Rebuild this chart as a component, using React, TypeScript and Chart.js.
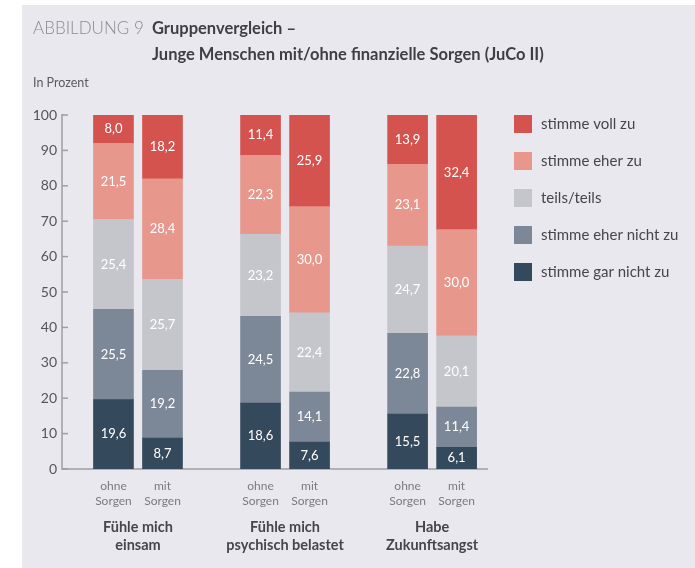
import { useEffect, useRef } from "react";
import { Chart, registerables } from "chart.js";

Chart.register(...registerables);

// ---- Data ----
const groupLabels: string[][] = [
  ["Fühle mich", "einsam"],
  ["Fühle mich", "psychisch belastet"],
  ["Habe", "Zukunftsangst"],
];
const subLabels: string[][] = [
  ["ohne", "Sorgen"],
  ["mit", "Sorgen"],
];
const seriesNames = [
  "stimme gar nicht zu",
  "stimme eher nicht zu",
  "teils/teils",
  "stimme eher zu",
  "stimme voll zu",
];
// order of bars: einsam ohne, einsam mit, belastet ohne, belastet mit, Zukunftsangst ohne, Zukunftsangst mit
const garNichtZu = [19.6, 8.7, 18.6, 7.6, 15.5, 6.1];
const eherNichtZu = [25.5, 19.2, 24.5, 14.1, 22.8, 11.4];
const teilsTeils = [25.4, 25.7, 23.2, 22.4, 24.7, 20.1];
const eherZu = [21.5, 28.4, 22.3, 30.0, 23.1, 30.0];
const vollZu = [8.0, 18.2, 11.4, 25.9, 13.9, 32.4];
const yTicks = [0, 10, 20, 30, 40, 50, 60, 70, 80, 90, 100];

const seriesValues = [garNichtZu, eherNichtZu, teilsTeils, eherZu, vollZu];
const seriesColors = ["#35495c", "#7c8898", "#c4c6cb", "#e8978c", "#d5534f"];

const FONT = "Lato, 'Open Sans', sans-serif";
const fmt = (v: number) => v.toFixed(1).replace(".", ",");

// bar index -> position on the linear x scale (2 bars per group, one empty slot between groups)
const barPos = (i: number) => Math.floor(i / subLabels.length) * (subLabels.length + 1) + (i % subLabels.length);

const decorPlugin = {
  id: "decor",
  beforeDraw(chart: any) {
    const ctx = chart.ctx;
    ctx.save();
    ctx.fillStyle = "#ffffff";
    ctx.fillRect(0, 0, chart.width, chart.height);
    ctx.fillStyle = "#e9e8ee";
    ctx.fillRect(22, 5, chart.width - 22, chart.height - 5);

    ctx.textBaseline = "middle";
    ctx.textAlign = "left";
    ctx.fillStyle = "#8a8a90";
    ctx.font = `300 17px ${FONT}`;
    ctx.fillText("ABBILDUNG 9", 33, 29);
    ctx.fillStyle = "#3e3e44";
    ctx.font = `bold 16.5px ${FONT}`;
    ctx.fillText("Gruppenvergleich –", 152, 29);
    ctx.fillText("Junge Menschen mit/ohne finanzielle Sorgen (JuCo II)", 152, 55);
    ctx.fillStyle = "#5a5a60";
    ctx.font = `12.5px ${FONT}`;
    ctx.fillText("In Prozent", 33, 83);
    ctx.restore();
  },
  beforeDatasetsDraw(chart: any) {
    const ctx = chart.ctx;
    const { left, right } = chart.chartArea;
    const y = chart.scales.y;
    const y0 = y.getPixelForValue(0);
    const y100 = y.getPixelForValue(100);
    ctx.save();
    ctx.strokeStyle = "#9d9da4";
    ctx.lineWidth = 1.5;
    ctx.beginPath();
    ctx.moveTo(left, y100 - 1);
    ctx.lineTo(left, y0);
    ctx.lineTo(right, y0);
    ctx.stroke();
    ctx.fillStyle = "#55555b";
    ctx.font = `14px ${FONT}`;
    ctx.textAlign = "right";
    ctx.textBaseline = "middle";
    for (const t of yTicks) {
      const py = y.getPixelForValue(t);
      ctx.beginPath();
      ctx.moveTo(left, py);
      ctx.lineTo(left + 6, py);
      ctx.stroke();
      ctx.fillText(String(t), left - 5, py);
    }
    ctx.restore();
  },
  afterDatasetsDraw(chart: any) {
    const ctx = chart.ctx;
    const xs = chart.scales.x;
    const y0 = chart.scales.y.getPixelForValue(0);
    ctx.save();
    // value labels
    ctx.fillStyle = "#ffffff";
    ctx.font = `13px ${FONT}`;
    ctx.textAlign = "center";
    ctx.textBaseline = "middle";
    chart.data.datasets.forEach((ds: any, di: number) => {
      const meta = chart.getDatasetMeta(di);
      meta.data.forEach((el: any, j: number) => {
        const p = el.getProps(["x", "y", "base"], true);
        ctx.fillText(fmt(seriesValues[di][j]), p.x, (p.y + p.base) / 2);
      });
    });
    // sub labels
    const n = garNichtZu.length;
    ctx.fillStyle = "#7a7a80";
    ctx.font = `12px ${FONT}`;
    for (let i = 0; i < n; i++) {
      const px = xs.getPixelForValue(barPos(i));
      const lines = subLabels[i % subLabels.length];
      ctx.fillText(lines[0], px, y0 + 17);
      ctx.fillText(lines[1], px, y0 + 32);
    }
    // group labels
    ctx.fillStyle = "#45454b";
    ctx.font = `bold 14.5px ${FONT}`;
    groupLabels.forEach((lines, g) => {
      const a = xs.getPixelForValue(barPos(g * subLabels.length));
      const b = xs.getPixelForValue(barPos(g * subLabels.length + subLabels.length - 1));
      const cx = (a + b) / 2;
      ctx.fillText(lines[0], cx, y0 + 58);
      ctx.fillText(lines[1], cx, y0 + 76);
    });
    // legend (top = last series)
    ctx.textAlign = "left";
    ctx.font = `15px ${FONT}`;
    for (let k = 0; k < seriesNames.length; k++) {
      const si = seriesNames.length - 1 - k;
      const cy = 124 + k * 37;
      ctx.fillStyle = seriesColors[si];
      ctx.fillRect(514, cy - 9, 18, 18);
      ctx.fillStyle = "#45454b";
      ctx.fillText(seriesNames[si], 541, cy);
    }
    ctx.restore();
  },
};

export default function App() {
  const ref = useRef<HTMLCanvasElement | null>(null);
  useEffect(() => {
    document.body.style.margin = "0";
    if (!ref.current) return;
    const chart = new Chart(ref.current, {
      type: "bar",
      data: {
        datasets: seriesValues.map((vals, di) => ({
          label: seriesNames[di],
          data: vals.map((v, i) => ({ x: barPos(i), y: v })),
          backgroundColor: seriesColors[di],
          borderWidth: 0,
          barThickness: 40,
        })),
      },
      options: {
        responsive: false,
        animation: false,
        layout: { padding: { left: 62, right: 207, top: 115, bottom: 99 } },
        plugins: { legend: { display: false }, tooltip: { enabled: false }, title: { display: false } },
        scales: {
          x: { type: "linear", stacked: true, offset: false, min: -1.05, max: 7.64, display: false },
          y: { stacked: true, min: 0, max: 100, display: false },
        },
      },
      plugins: [decorPlugin],
    });
    return () => chart.destroy();
  }, []);
  return (
    <div style={{ width: 695, height: 568 }}>
      <canvas ref={ref} width={695} height={568} style={{ display: "block" }} />
    </div>
  );
}
